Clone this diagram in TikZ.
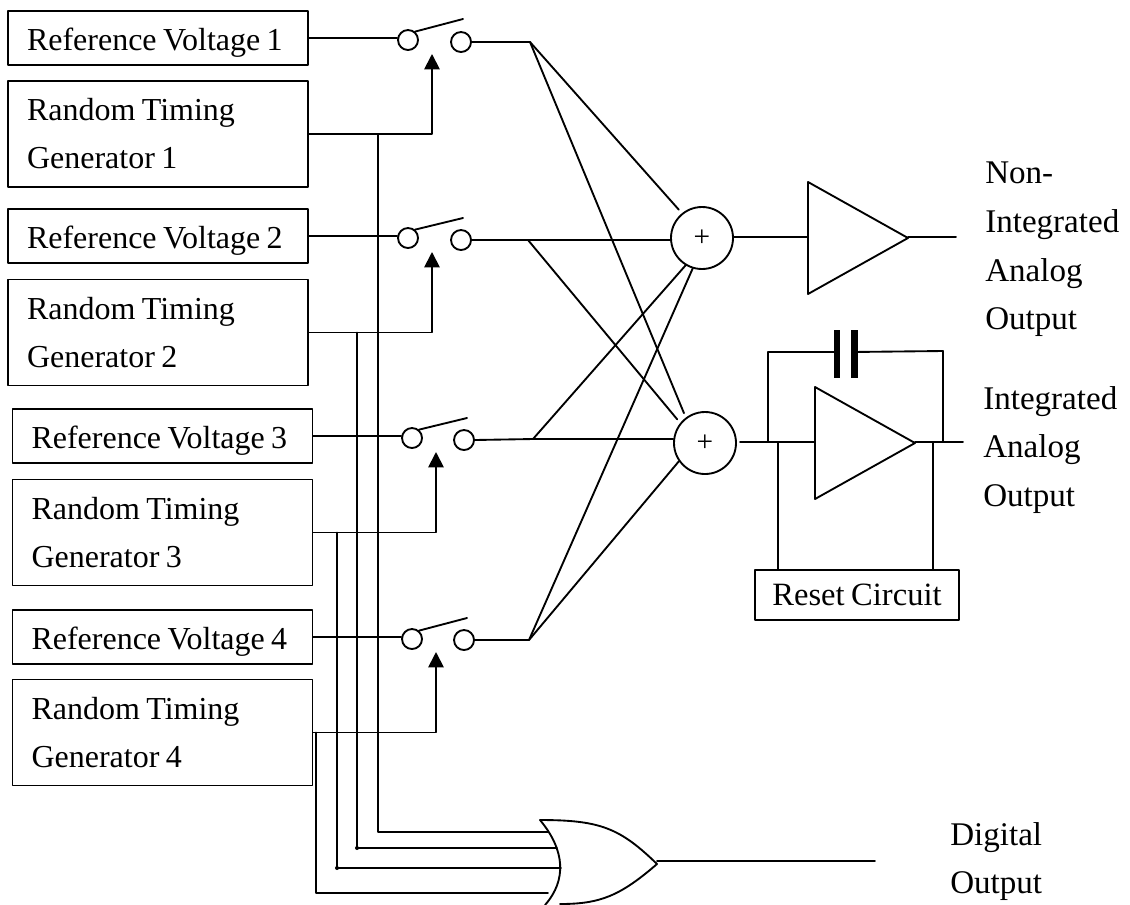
\documentclass[tikz,border=0pt]{standalone}
\usepackage{fontspec}
\setmainfont[WordSpace=0.8]{Liberation Serif}
\usetikzlibrary{arrows.meta}
\tikzset{
  wire/.style={line width=1.4pt,line cap=round,line join=round},
  ctrl/.style={wire,-{Triangle[length=11.5pt,width=11.5pt]}},
  refbox/.style={draw,wire,text width=196.5pt,inner xsep=14.25pt,inner ysep=0pt,minimum height=40pt,align=flush left,
    text height=18pt,text depth=0pt,font=\fontsize{24}{36}\selectfont},
  timebox/.style={refbox,minimum height=79.5pt,text height=20pt,text depth=40pt},
  term/.style={draw,wire,circle,inner sep=0pt,minimum size=15pt},
  adder/.style={draw,wire,circle,inner sep=0pt,minimum size=46.5pt,font=\fontsize{22}{22}\selectfont},
  outlabel/.style={anchor=north west,inner sep=0pt,align=left,font=\fontsize{24.8}{36.5}\selectfont},
  joint/.style={fill,circle,inner sep=0pt,minimum size=3pt},
  gap/.style={shorten >=3.5pt}
}
\begin{document}
\begin{tikzpicture}[x=0.75pt,y=-0.75pt]
\useasboundingbox (0,0) rectangle (1130,904);

\node[refbox] (ref1) at (158,38) {Reference Voltage 1};
\node[timebox] (rtg1) at (158,134) {Random Timing\\Generator 1};
\node[refbox] (ref2) at (158,236) {Reference Voltage 2};
\node[timebox] (rtg2) at (158,332.5) {Random Timing\\Generator 2};
\node[refbox] (ref3) at (162.5,436) {Reference Voltage 3};
\node[timebox] (rtg3) at (162.5,532.5) {Random Timing\\Generator 3};
\node[refbox] (ref4) at (162.5,637) {Reference Voltage 4};
\node[timebox] (rtg4) at (162.5,732.5) {Random Timing\\Generator 4};

% switches
\node[term] (in1) at (408,40) {};
\node[term] (out1) at (461,42) {};
\node[term] (in2) at (408,238) {};
\node[term] (out2) at (461,240) {};
\node[term] (in3) at (412,438) {};
\node[term] (out3) at (464,440) {};
\node[term] (in4) at (412,639) {};
\node[term] (out4) at (464,640) {};

\coordinate (arm1) at (463,19);
\coordinate (arm2) at (463,218);
\coordinate (arm3) at (467,418);
\coordinate (arm4) at (467,618);
\draw[wire] (in1.50) -- (arm1);
\draw[wire] (in2.50) -- (arm2);
\draw[wire] (in3.50) -- (arm3);
\draw[wire] (in4.50) -- (arm4);

\draw[wire] (ref1.east) -- (in1.west |- ref1.east);
\draw[wire] (ref2.east) -- (in2.west |- ref2.east);
\draw[wire] (ref3.east) -- (in3.west |- ref3.east);
\draw[wire] (ref4.east) -- (in4.west |- ref4.east);

\coordinate (tip1) at (432,54);
\coordinate (tip2) at (432,252);
\coordinate (tip3) at (436,452);
\coordinate (tip4) at (436,652);
\draw[ctrl] (rtg1.east) -| (tip1);
\draw[ctrl] (rtg2.east) -| (tip2);
\draw[ctrl] (rtg3.east) -| (tip3);
\draw[ctrl] (rtg4.east) -| (tip4);

% summing
\node[adder] (add1) at (702,238) {+};
\node[adder] (add2) at (705,443) {+};

\coordinate (fan1) at (530,42);
\coordinate (fan2) at (528,240);
\coordinate (fan3) at (533,439);
\coordinate (fan4) at (529,640);
\draw[wire] (out1.east) -- (fan1);
\draw[wire] (out2.east) -- (add1.west |- out2.east);
\draw[wire] (out3.east) -- (fan3) -- (add2.west |- fan3);
\draw[wire] (out4.east) -- (fan4);

\draw[wire,gap] (fan1) -- (add1.129);
\draw[wire,gap] (fan1) -- (add2.127);
\draw[wire,gap] (fan2) -- (add2.141);
\draw[wire] (fan3) -- (add1.239);
\draw[wire] (fan4) -- (add1.253);
\draw[wire] (fan4) -- (add2.215);

% output amplifiers
\coordinate (amp1a) at (808,182);
\coordinate (amp1b) at (808,294);
\coordinate (amp1c) at (908,238);
\coordinate (amp1i) at (808,237);
\coordinate (amp1o) at (956,237);
\draw[wire] (amp1a) -- (amp1c) -- (amp1b) -- cycle;
\draw[wire] (add1.east |- amp1i) -- (amp1i);
\draw[wire] (amp1c |- amp1o) -- (amp1o);

\coordinate (amp2a) at (815,387);
\coordinate (amp2b) at (815,499);
\coordinate (amp2c) at (915,443);
\coordinate (amp2i) at (815,442);
\coordinate (amp2o) at (963,442);
\coordinate (add2o) at (740,442);
\draw[wire] (amp2a) -- (amp2c) -- (amp2b) -- cycle;
\draw[wire] (add2o) -- (amp2i);
\draw[wire] (amp2c |- amp2o) -- (amp2o);

% capacitor and reset
\coordinate (fbl) at (768,442);
\coordinate (fbr) at (943,442);
\coordinate (capl) at (837,352);
\coordinate (capr) at (852,352);
\draw[wire] (fbl) |- (capl);
\draw[wire] (capr) -- (943,351) -- (fbr);
\fill (834,330) rectangle (840,378);
\fill (851,330) rectangle (858,378);

\node[draw,wire,minimum width=153pt,minimum height=37.5pt,inner sep=0pt,font=\fontsize{24.4}{26}\selectfont] (reset) at (857,595) {Reset Circuit};
\coordinate (rstl) at (778,442);
\coordinate (rstr) at (933,442);
\draw[wire] (rstl) -- (rstl |- reset.north);
\draw[wire] (rstr) -- (rstr |- reset.north);

% or gate
\coordinate (ortop) at (540,820);
\coordinate (orbot) at (545,905);
\coordinate (orapex) at (657,864);
\draw[wire] (ortop) .. controls (565,850) and (567,880) .. (orbot);
\draw[wire] (ortop) .. controls (600,820) and (620,828) .. (orapex);
\draw[wire] (orapex) .. controls (620,896) and (600,904) .. (560,904);

\coordinate (bus1) at (378,134);
\coordinate (bus2) at (357,332.5);
\coordinate (bus3) at (337,532.5);
\coordinate (bus4) at (316,732.5);
\coordinate (or1) at (548,832);
\coordinate (or2) at (557,848);
\coordinate (or3) at (561,868);
\coordinate (or4) at (548,893);
\draw[wire] (bus1) |- (or1);
\draw[wire] (bus2) |- (or2);
\draw[wire] (bus3) |- (or3);
\draw[wire] (bus4) |- (or4);
\node[joint] (dot2) at (bus2 |- or2) {};
\node[joint] (dot3) at (bus3 |- or3) {};

\coordinate (oro) at (875,861);
\draw[wire] (orapex |- oro) -- (oro);

% labels
\node[outlabel] (lab1) at (985,162) {Non-\\Integrated\\Analog\\Output};
\node[outlabel] (lab2) at (983,386) {Integrated\\Analog\\Output};
\node[outlabel] (lab3) at (950,822) {Digital\\Output};
\end{tikzpicture}
\end{document}
